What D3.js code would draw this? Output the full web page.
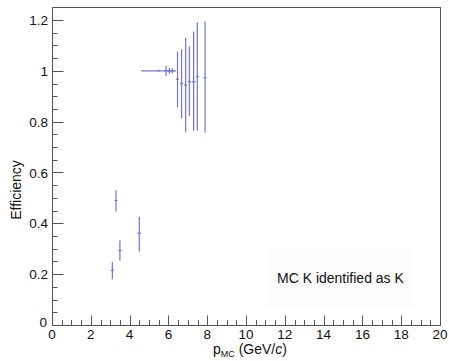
<!DOCTYPE html>
<html><head><meta charset="utf-8">
<script src="https://cdn.jsdelivr.net/npm/d3@7"></script>
<style>html,body{margin:0;padding:0;background:#fff;}svg{display:block;font-family:"Liberation Sans",Arial,Helvetica,sans-serif;}</style>
</head><body>
<script>
// Data
const pMC    = [3.11, 3.30, 3.50, 4.50, 5.50, 5.88, 6.05, 6.20, 6.47, 6.68, 6.89, 7.08, 7.30, 7.49, 7.89];
const eff    = [0.215, 0.490, 0.293, 0.361, 1.000, 1.000, 1.000, 1.000, 0.967, 0.950, 0.944, 0.957, 0.957, 0.977, 0.973];
const errHi  = [0.033, 0.040, 0.039, 0.065, 0.004, 0.020, 0.012, 0.010, 0.109, 0.135, 0.185, 0.139, 0.198, 0.213, 0.221];
const errLo  = [0.035, 0.043, 0.040, 0.072, 0.004, 0.020, 0.012, 0.010, 0.110, 0.137, 0.186, 0.134, 0.193, 0.212, 0.216];
const errX   = [0.08, 0.08, 0.08, 0.10, 0.90, 0.08, 0.08, 0.08, 0.08, 0.08, 0.08, 0.08, 0.10, 0.08, 0.08];
const xTicks = [0, 2, 4, 6, 8, 10, 12, 14, 16, 18, 20];
const yTicks = [0, 0.2, 0.4, 0.6, 0.8, 1, 1.2];
const legendText = "MC K identified as K";

const W = 449, H = 361;
const L = 52, R = 440, T = 7, B = 325;
const svg = d3.select("body").append("svg").attr("width", W).attr("height", H);

const x = d3.scaleLinear().domain([0, 20]).range([L, R]);
const y = d3.scaleLinear().domain([0, 1.2]).range([B, 20]);
const yTop = y.invert(T);

const frameColor = "#555";
// frame
svg.append("rect").attr("x", L + 0.5).attr("y", T + 0.5).attr("width", R - L).attr("height", B - T)
  .attr("fill", "none").attr("stroke", frameColor).attr("stroke-width", 1);

// legend box
svg.append("rect").attr("x", 268).attr("y", 248).attr("width", 144).attr("height", 59).attr("fill", "#fbfbfb");
svg.append("text").attr("x", 277).attr("y", 283).attr("font-size", 14).attr("fill", "#111").text(legendText);

// x ticks (inside, pointing up)
const xMinor = d3.range(0, 20.001, 0.5);
const gx = svg.append("g");
xMinor.forEach(v => {
  const major = Math.abs(v / 2 - Math.round(v / 2)) < 1e-6;
  const len = major ? 9.5 : 5;
  gx.append("line").attr("x1", Math.round(x(v)) + 0.5).attr("x2", Math.round(x(v)) + 0.5)
    .attr("y1", B).attr("y2", B - len).attr("stroke", frameColor).attr("stroke-width", 1);
});
xTicks.forEach(v => {
  gx.append("text").attr("x", x(v)).attr("y", 339).attr("text-anchor", "middle")
    .attr("font-size", 13.5).attr("fill", "#111").text(v);
});

// y ticks (inside, pointing right)
const yMinor = d3.range(0, yTop, 0.05);
const gy = svg.append("g");
yMinor.forEach(v => {
  const major = Math.abs(v / 0.2 - Math.round(v / 0.2)) < 1e-6;
  const len = major ? 11.5 : 5.5;
  gy.append("line").attr("y1", Math.round(y(v)) + 0.5).attr("y2", Math.round(y(v)) + 0.5)
    .attr("x1", L).attr("x2", L + len).attr("stroke", frameColor).attr("stroke-width", 1);
});
yTicks.forEach(v => {
  gy.append("text").attr("x", v === 0 ? 47 : 48).attr("y", y(v) + (v === 0 ? 2 : 5)).attr("text-anchor", "end")
    .attr("font-size", 13.5).attr("fill", "#111").text(v);
});

// axis titles
const xt = svg.append("text").attr("x", 213).attr("y", 354).attr("font-size", 14).attr("fill", "#111");
xt.append("tspan").text("p");
xt.append("tspan").attr("dy", 3).attr("font-size", 9).text("MC");
xt.append("tspan").attr("dy", -3).text(" (GeV/");
xt.append("tspan").attr("font-style", "italic").text("c");
xt.append("tspan").text(")");

svg.append("text").attr("transform", "translate(21,190) rotate(-90)").attr("text-anchor", "middle")
  .attr("font-size", 14).attr("fill", "#111").text("Efficiency");

// data error bars
const col = "#7474d2";
const gd = svg.append("g");
pMC.forEach((px, i) => {
  const cx = x(px), cy = y(eff[i]);
  gd.append("line").attr("x1", cx).attr("x2", cx).attr("y1", y(eff[i] + errHi[i])).attr("y2", y(eff[i] - errLo[i]))
    .attr("stroke", col).attr("stroke-width", 1.2);
  gd.append("line").attr("x1", x(px - errX[i])).attr("x2", x(px + errX[i])).attr("y1", cy).attr("y2", cy)
    .attr("stroke", col).attr("stroke-width", 1.2);
});
</script>
</body></html>
